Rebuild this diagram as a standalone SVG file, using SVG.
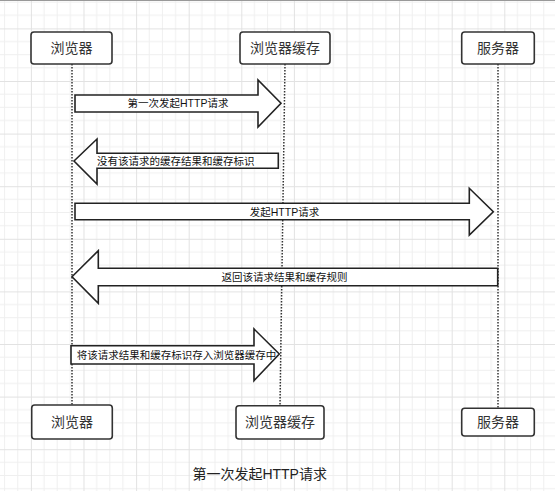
<svg xmlns="http://www.w3.org/2000/svg" width="555" height="491" viewBox="0 0 555 491">
<defs>
<pattern id="grid" x="30.9" y="28.4" width="52.6" height="52.6" patternUnits="userSpaceOnUse">
<path d="M13.15 0V52.6M26.3 0V52.6M39.45 0V52.6M0 13.15H52.6M0 26.3H52.6M0 39.45H52.6" stroke="#efefef" stroke-width="1" fill="none"/>
<path d="M0.5 0V52.6M0 0.5H52.6" stroke="#e2e2e2" stroke-width="1" fill="none"/>
</pattern>
</defs>
<style>
.node rect{fill:#fff;stroke:#333;stroke-width:1.6}
.node text{font-family:"Liberation Sans","Noto Sans CJK SC",sans-serif;font-size:14px;fill:#333;text-anchor:middle;dominant-baseline:central}
.life{stroke:#333;stroke-width:1.5;stroke-dasharray:1.5 1.5;fill:none}
.arrow polygon{fill:#fff;stroke:#222;stroke-width:1.6;stroke-linejoin:miter}
.arrow text{font-family:"Liberation Sans","Noto Sans CJK SC",sans-serif;font-size:10.5px;fill:#111;dominant-baseline:central}
.caption{font-family:"Liberation Sans","Noto Sans CJK SC",sans-serif;font-size:14px;fill:#222;text-anchor:middle;dominant-baseline:central}
</style>
<rect x="0" y="0" width="555" height="491" fill="#fff"/>
<rect x="0" y="0" width="555" height="491" fill="url(#grid)"/>
<line x1="0" y1="0.5" x2="555" y2="0.5" stroke="#999" stroke-width="1"/>

<g id="lifelines">
<line class="life" x1="72" y1="64" x2="72" y2="405"/>
<line class="life" x1="285" y1="64" x2="280" y2="405"/>
<line class="life" x1="498" y1="64" x2="498" y2="408"/>
</g>

<g id="connectors">
<g class="arrow" id="msg1">
<polygon points="75,95 258,95 258,80 281,103.3 258,127 258,112 75,112"/>
<text x="178" y="103.3" text-anchor="middle">第一次发起HTTP请求</text>
</g>
<g class="arrow" id="msg2">
<polygon points="74,161 97,139 97,153.3 278.3,153.3 278.3,168.3 97,168.3 97,184"/>
<text x="97" y="161">没有该请求的缓存结果和缓存标识</text>
</g>
<g class="arrow" id="msg3">
<polygon points="75,203.3 469.3,203.3 469.3,188.3 493.3,211.7 469.3,235 469.3,219.8 75,219.8"/>
<text x="284.5" y="211.5" text-anchor="middle">发起HTTP请求</text>
</g>
<g class="arrow" id="msg4">
<polygon points="72,276.7 98.3,250.7 98.3,268.3 497.7,268.3 497.7,285.7 98.3,285.7 98.3,303.3"/>
<text x="284.5" y="276.5" text-anchor="middle">返回该请求结果和缓存规则</text>
</g>
<g class="arrow" id="msg5">
<polygon points="71,345.7 254,345.7 254,329 279.3,354 254,380.7 254,364 71,364"/>
<text x="176.5" y="354.5" text-anchor="middle">将该请求结果和缓存标识存入浏览器缓存中</text>
</g>
</g>

<g class="node" id="browser-top"><rect x="31" y="32" width="81" height="32" rx="3"/><text x="71.5" y="48">浏览器</text></g>
<g class="node" id="cache-top"><rect x="240" y="32" width="90" height="32" rx="3"/><text x="285" y="48">浏览器缓存</text></g>
<g class="node" id="server-top"><rect x="461.7" y="32" width="72.6" height="32" rx="3"/><text x="498" y="48">服务器</text></g>

<g class="node" id="browser-bottom"><rect x="31.7" y="405" width="80.6" height="34" rx="3"/><text x="72" y="422">浏览器</text></g>
<g class="node" id="cache-bottom"><rect x="236" y="405.7" width="88" height="33.3" rx="3"/><text x="280" y="422.3">浏览器缓存</text></g>
<g class="node" id="server-bottom"><rect x="461.7" y="408.3" width="72.6" height="27.7" rx="3"/><text x="498" y="422">服务器</text></g>

<text class="caption" x="259.7" y="473.5">第一次发起HTTP请求</text>
</svg>
